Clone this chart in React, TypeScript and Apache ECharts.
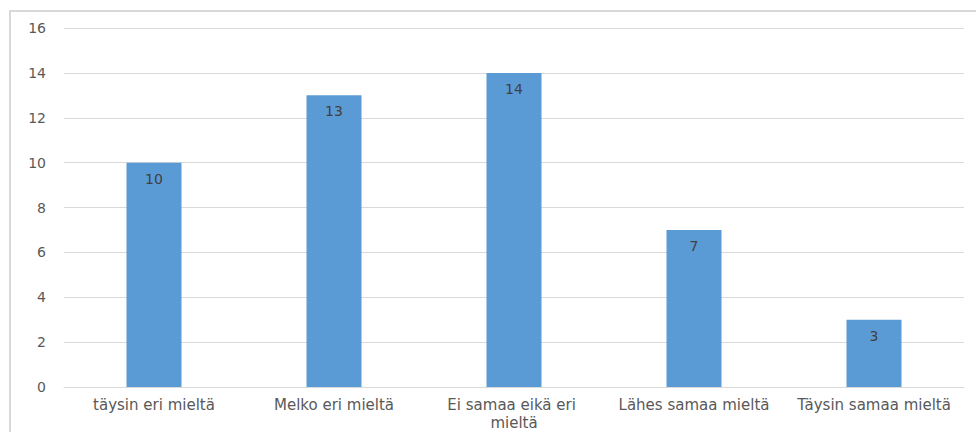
import React, { useEffect, useRef } from "react";
import * as echarts from "echarts";

const categories = [
  "täysin eri mieltä",
  "Melko eri mieltä",
  "Ei samaa eikä eri mieltä",
  "Lähes samaa mieltä",
  "Täysin samaa mieltä",
];
const values = [10, 13, 14, 7, 3];
const yMin = 0;
const yMax = 16;
const yStep = 2;

export default function App() {
  const ref = useRef<HTMLDivElement>(null);
  useEffect(() => {
    if (!ref.current) return;
    const chart = echarts.init(ref.current, null, { renderer: "svg" });
    const font = "'DejaVu Sans', 'Open Sans', sans-serif";
    chart.setOption({
      animation: false,
      backgroundColor: "#ffffff",
      textStyle: { fontFamily: font },
      grid: {
        left: 64,
        right: 12,
        top: 28,
        bottom: 45,
        containLabel: false,
        outerBoundsMode: "none",
      },
      graphic: [
        {
          type: "rect",
          shape: { x: 10, y: 11, width: 1100, height: 600 },
          style: { fill: "none", stroke: "#d9d9d9", lineWidth: 2 },
          silent: true,
          z: -1,
        },
      ],
      xAxis: {
        type: "category",
        data: categories,
        axisLine: { show: true, lineStyle: { color: "#d9d9d9", width: 1 } },
        axisTick: { show: false },
        axisLabel: {
          color: "#595959",
          fontSize: 15,
          fontFamily: font,
          margin: 9,
          interval: 0,
          width: 174,
          overflow: "break",
          lineHeight: 18,
        },
      },
      yAxis: {
        type: "value",
        min: yMin,
        max: yMax,
        interval: yStep,
        axisLine: { show: false },
        axisTick: { show: false },
        axisLabel: {
          color: "#595959",
          fontSize: 14,
          fontFamily: font,
          margin: 18,
        },
        splitLine: { lineStyle: { color: "#d9d9d9", width: 1 } },
      },
      series: [
        {
          type: "bar",
          data: values,
          barWidth: 55,
          itemStyle: { color: "#5b9bd5" },
          label: {
            show: true,
            position: "insideTop",
            distance: 9,
            color: "#404040",
            fontSize: 14,
            fontFamily: font,
          },
        },
      ],
    });
    return () => chart.dispose();
  }, []);
  return (
    <div
      ref={ref}
      style={{ position: "absolute", left: 0, top: 0, width: 976, height: 432 }}
    />
  );
}
